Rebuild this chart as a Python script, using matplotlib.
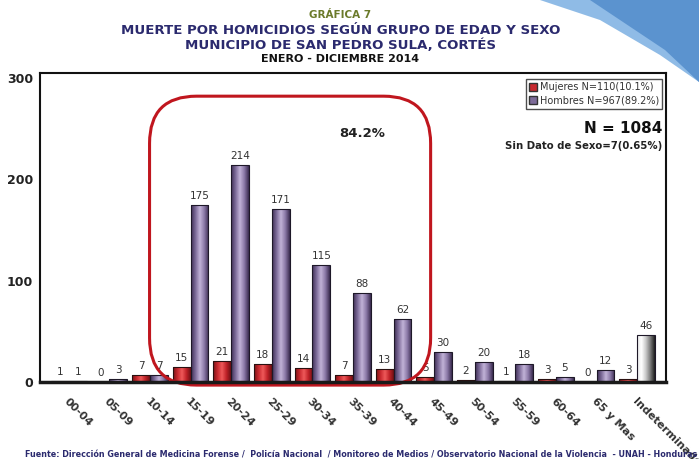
import numpy as np
import matplotlib.pyplot as plt
from matplotlib.patches import FancyBboxPatch, Polygon, Patch
from matplotlib.colors import LinearSegmentedColormap

grupos = ['00-04', '05-09', '10-14', '15-19', '20-24', '25-29', '30-34', '35-39',
          '40-44', '45-49', '50-54', '55-59', '60-64', '65 y Mas', 'Indeterminado']
mujeres = [1, 0, 7, 15, 21, 18, 14, 7, 13, 5, 2, 1, 3, 0, 3]
hombres = [1, 3, 7, 175, 214, 171, 115, 88, 62, 30, 20, 18, 5, 12, 46]

rojo = LinearSegmentedColormap.from_list('r', ['#7a1418', '#c8282e', '#ee5a5a', '#c02228', '#6e1014'])
morado = LinearSegmentedColormap.from_list('m', ['#3e2f55', '#7d6b99', '#c2b3d8', '#8a78a6', '#3a2c50'])
gris = LinearSegmentedColormap.from_list('g', ['#e8e8e8', '#ffffff', '#c8c8c8', '#7a7a7a', '#1e1e1e'])

fig = plt.figure(figsize=(6.99, 4.59), dpi=100)
ax = fig.add_axes([40 / 699, 77 / 459, 626 / 699, 309 / 459])

# fondo decorativo arriba a la derecha
deco = fig.add_axes([0, 0, 1, 1], zorder=-5)
deco.axis('off')
deco.set_xlim(0, 699)
deco.set_ylim(459, 0)
deco.add_patch(Polygon([[540, 0], [699, 0], [699, 82], [660, 55], [600, 20]], closed=True,
                       color='#8fbbe6', lw=0))
deco.add_patch(Polygon([[590, 0], [699, 0], [699, 82], [665, 50]], closed=True,
                       color='#5b93cf', lw=0))

x = np.arange(len(grupos))
w = 0.44


def degradado(bars, cmap):
    grad = np.linspace(0, 1, 64).reshape(1, -1)
    for b in bars:
        x0, y0 = b.get_x(), b.get_y()
        h = b.get_height()
        if h <= 0:
            continue
        im = ax.imshow(grad, cmap=cmap, aspect='auto', extent=[x0, x0 + b.get_width(), y0, y0 + h],
                       zorder=2)
        im.set_clip_path(b)


b1 = ax.bar(x - w / 2, mujeres, w, color='#c8282e', edgecolor='#2a1010', lw=0.8, zorder=3)
b2 = ax.bar(x + w / 2, hombres, w, color='#8a78a6', edgecolor='#1e1828', lw=0.8, zorder=3)
for b in list(b1) + list(b2):
    b.set_facecolor('none')
degradado(b1, rojo)
degradado(list(b2)[:-1], morado)
degradado([list(b2)[-1]], gris)

for xi, v in zip(x - w / 2, mujeres):
    ax.text(xi, v + 4, str(v), ha='center', va='bottom', fontsize=7.5, color='#333333')
for xi, v in zip(x + w / 2, hombres):
    ax.text(xi, v + 4, str(v), ha='center', va='bottom', fontsize=7.5, color='#333333')

ax.set_xlim(-0.71, len(grupos) - 1 + 0.71)
ax.set_ylim(0, 305)
ax.set_yticks([0, 100, 200, 300])
ax.set_yticklabels(['0', '100', '200', '300'], fontsize=9, fontweight='bold', color='#222222')
ax.tick_params(axis='both', length=0)
ax.tick_params(axis='y', pad=5)
ax.set_xticks(x)
ax.set_xticklabels(grupos, rotation=-45, ha='left', va='top', rotation_mode='anchor',
                   fontsize=8, fontweight='bold', color='#333333')
ax.tick_params(axis='x', pad=10)
for s in ['top', 'left', 'right']:
    ax.spines[s].set_linewidth(1.5)
    ax.spines[s].set_color('#111111')
ax.spines['bottom'].set_linewidth(2.5)
ax.spines['bottom'].set_color('#1a1a1a')
ax.spines['bottom'].set_zorder(6)

# recuadro redondeado
rw = 628 / 309
box = FancyBboxPatch((0.175, -0.01), 0.449, 0.935, transform=ax.transAxes,
                     boxstyle='round,pad=0,rounding_size=0.075', mutation_aspect=rw,
                     fill=False, ec='#c0161e', lw=2.2, zorder=5, clip_on=False)
ax.add_patch(box)
ax.text(0.515, 0.805, '84.2%', transform=ax.transAxes, ha='center', va='center',
        fontsize=9.5, fontweight='bold', color='#222222')

# leyenda
leg = ax.legend([Patch(facecolor='#c8282e', edgecolor='#333333'),
                 Patch(facecolor='#7d6b99', edgecolor='#333333')],
                ['Mujeres N=110(10.1%)', 'Hombres N=967(89.2%)'],
                loc='upper right', bbox_to_anchor=(0.999, 0.99), fontsize=7, frameon=True,
                fancybox=False, edgecolor='#222222', handlelength=0.8, handleheight=1.0,
                handletextpad=0.3, borderpad=0.35, labelspacing=0.3, borderaxespad=0.3)
leg.get_frame().set_linewidth(1.0)
for t in leg.get_texts():
    t.set_color('#333333')

ax.text(0.994, 0.82, 'N = 1084', transform=ax.transAxes, ha='right', va='center',
        fontsize=11, fontweight='bold', color='#111111')
ax.text(0.994, 0.765, 'Sin Dato de Sexo=7(0.65%)', transform=ax.transAxes, ha='right',
        va='center', fontsize=7.3, fontweight='bold', color='#222222')

# titulos
fig.text(0.487, 1 - 15 / 459, 'GRÁFICA 7', ha='center', va='center', fontsize=7.5,
         fontweight='bold', color='#6b7a2a')
fig.text(0.487, 1 - 31 / 459, 'MUERTE POR HOMICIDIOS SEGÚN GRUPO DE EDAD Y SEXO', ha='center',
         va='center', fontsize=9.6, fontweight='bold', color='#2b2a6e')
fig.text(0.487, 1 - 45.5 / 459, 'MUNICIPIO DE SAN PEDRO SULA, CORTÉS', ha='center', va='center',
         fontsize=9.6, fontweight='bold', color='#2b2a6e')
fig.text(0.487, 1 - 59 / 459, 'ENERO - DICIEMBRE 2014', ha='center', va='center', fontsize=8,
         fontweight='bold', color='#111111')
fig.text(25 / 699, 1 - 455 / 459,
         'Fuente: Dirección General de Medicina Forense /  Policía Nacional  / Monitoreo de Medios '
         '/ Observatorio Nacional de la Violencia  - UNAH - Honduras',
         ha='left', va='center', fontsize=5.8, fontweight='bold', color='#2b2a6e')

fig.savefig('out.png', dpi=100)
